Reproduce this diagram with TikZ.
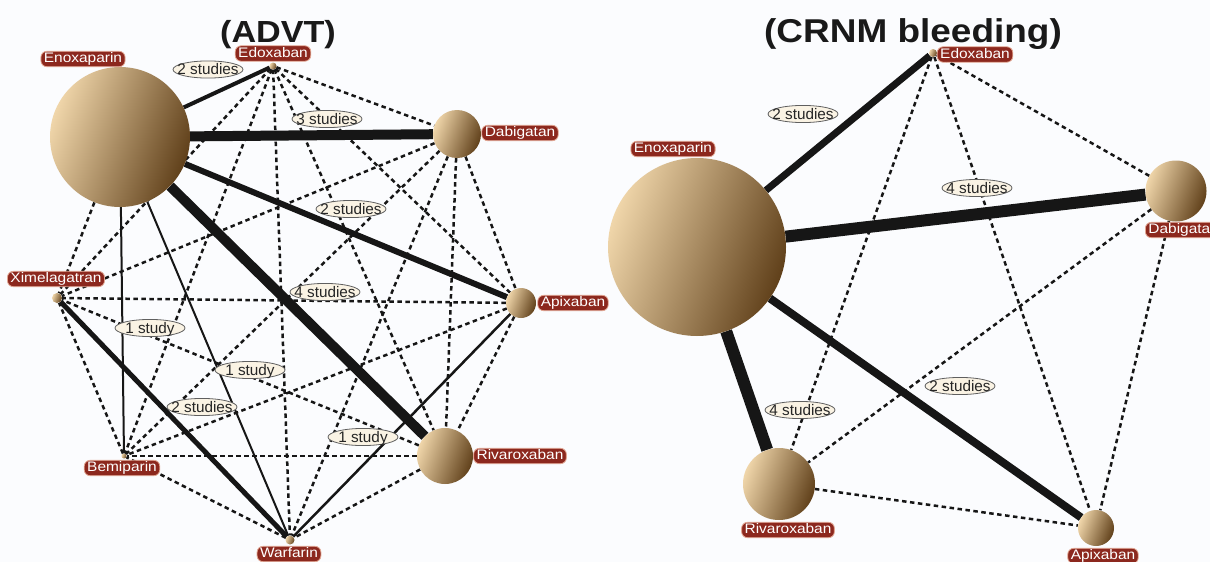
\documentclass[tikz,border=0pt]{standalone}
\usepackage{fontspec}
\setmainfont{Liberation Sans}
\newfontfamily\lblfont[FakeStretch=1.12]{Liberation Sans}
\newfontfamily\ttlfont[FakeStretch=1.12]{Liberation Sans}
\usetikzlibrary{shapes.geometric}
\pgfdeclarelayer{bg}
\pgfsetlayers{bg,main}
\definecolor{sphL}{RGB}{240,214,170}
\definecolor{sphM}{RGB}{184,145,90}
\definecolor{sphD}{RGB}{96,64,26}
\definecolor{lblred}{RGB}{140,40,30}
\definecolor{lblglow}{RGB}{225,165,145}
\definecolor{ellfill}{RGB}{250,243,228}
\definecolor{ellbord}{RGB}{95,95,95}
\definecolor{lineC}{RGB}{22,22,22}
\definecolor{bgC}{RGB}{251,252,254}
\tikzset{
  sph/.style={circle, inner sep=0pt, minimum size=#1, top color=sphL, middle color=sphM, bottom color=sphD, shading angle=70},
  tag/.style={fill=lblred, draw=lblglow, line width=0.8pt, rounded corners=6pt, text=white,
    font=\lblfont\fontsize{13.8}{14}\selectfont, inner xsep=3pt, inner ysep=1.2pt, text height=10pt, text depth=3pt},
  study/.style={ellipse, fill=ellfill, draw=ellbord, line width=0.8pt, text=black!85,
    font=\fontsize{15.3}{16}\selectfont, inner xsep=-6pt, inner ysep=0.8pt, text height=10.5pt, text depth=0pt,
    minimum width=70pt, minimum height=17pt},
  tie/.style={draw=lineC, line width=#1},
  dsh/.style={draw=lineC, line width=2.5pt, dash pattern=on 4.5pt off 3.5pt},
  ttl/.style={anchor=base, font=\ttlfont\bfseries\fontsize{#1}{#1}\selectfont, text=black!90}
}
\begin{document}
\begin{tikzpicture}[x=1pt,y=-1pt]
\begin{pgfonlayer}{bg}
  \fill[bgC] (0,0) rectangle (1210,562);
\end{pgfonlayer}
\useasboundingbox (0,0) rectangle (1210,562);

% ---------- titles ----------
\node[ttl=30.5] (t1) at (278,42.5) {(ADVT)};
\node[ttl=33] (t2) at (913,42.5) {(CRNM bleeding)};

% ---------- left network ----------
\node[sph=140pt] (LEn) at (120,137) {};
\node[sph=7pt]   (LEd) at (273,66) {};
\node[sph=48pt]  (LDa) at (457,134) {};
\node[sph=30pt]  (LAp) at (521,303) {};
\node[sph=56pt]  (LRi) at (445,456) {};
\node[sph=9pt]   (LWa) at (290,540) {};
\node[sph=5pt]   (LBe) at (124,456) {};
\node[sph=10pt]  (LXi) at (57,298) {};

\begin{pgfonlayer}{bg}
  \draw[dsh] (LEn) -- (LXi);
  \draw[dsh] (LEd) -- (LDa);
  \draw[dsh] (LEd) -- (LAp);
  \draw[dsh] (LEd) -- (LRi);
  \draw[dsh] (LEd) -- (LWa);
  \draw[dsh] (LEd) -- (LBe);
  \draw[dsh] (LEd) -- (LXi);
  \draw[dsh] (LDa) -- (LAp);
  \draw[dsh] (LDa) -- (LRi);
  \draw[dsh] (LDa) -- (LWa);
  \draw[dsh] (LDa) -- (LBe);
  \draw[dsh] (LDa) -- (LXi);
  \draw[dsh] (LAp) -- (LRi);
  \draw[dsh] (LAp) -- (LBe);
  \draw[dsh] (LAp) -- (LXi);
  \draw[dsh] (LRi) -- (LWa);
  \draw[dsh] (LRi) -- (LBe);
  \draw[dsh] (LRi) -- (LXi);
  \draw[dsh] (LWa) -- (LBe);
  \draw[dsh] (LBe) -- (LXi);
  \draw[tie=4pt]   (LEn) -- (LEd);
  \draw[tie=10pt]  (LEn) -- (LDa);
  \draw[tie=6pt]   (LEn) -- (LAp);
  \draw[tie=10pt]  (LEn) -- (LRi);
  \draw[tie=2pt]   (LEn) -- (LBe);
  \draw[tie=2pt]   (LEn) -- (LWa);
  \draw[tie=5pt]   (LXi) -- (LWa);
  \draw[tie=2.5pt] (LAp) -- (LWa);
\end{pgfonlayer}

\node[study] (ls1) at (208,69.5) {2 studies};
\node[study] (ls2) at (327,119) {3 studies};
\node[study] (ls3) at (351,209) {2 studies};
\node[study] (ls4) at (325,292) {4 studies};
\node[study] (ls5) at (150,328) {1 study};
\node[study] (ls6) at (250,370) {1 study};
\node[study] (ls7) at (202,407) {2 studies};
\node[study] (ls8) at (363,437) {1 study};

\node[tag] (lEn) at (83,59)   {Enoxaparin};
\node[tag] (lEd) at (273,53.5)  {Edoxaban};
\node[tag] (lDa) at (520,133) {Dabigatan};
\node[tag] (lAp) at (573,303) {Apixaban};
\node[tag] (lRi) at (520,456) {Rivaroxaban};
\node[tag] (lWa) at (289,554) {Warfarin};
\node[tag] (lBe) at (122,468) {Bemiparin};
\node[tag] (lXi) at (56,279)  {Ximelagatran};

% ---------- right network ----------
\node[sph=178pt] (REn) at (697,247) {};
\node[sph=8pt]   (REd) at (933,53) {};
\node[sph=61pt]  (RDa) at (1176,191) {};
\node[sph=72pt]  (RRi) at (779,484) {};
\node[sph=36pt]  (RAp) at (1096,528) {};

\begin{pgfonlayer}{bg}
  \draw[dsh] (REd) -- (RDa);
  \draw[dsh] (REd) -- (RRi);
  \draw[dsh] (REd) -- (RAp);
  \draw[dsh] (RDa) -- (RRi);
  \draw[dsh] (RDa) -- (RAp);
  \draw[dsh] (RRi) -- (RAp);
  \draw[tie=7pt]  (REn) -- (REd);
  \draw[tie=12pt] (REn) -- (RDa);
  \draw[tie=12pt] (REn) -- (RRi);
  \draw[tie=8pt]  (REn) -- (RAp);
\end{pgfonlayer}

\node[study] (rs1) at (803,114) {2 studies};
\node[study] (rs2) at (977,188) {4 studies};
\node[study] (rs3) at (800,410) {4 studies};
\node[study] (rs4) at (960,386) {2 studies};

\node[tag] (rEn) at (673,149)  {Enoxaparin};
\node[tag] (rEd) at (975,54.5)   {Edoxaban};
\node[tag, anchor=west] (rDa) at (1145,230) {Dabigatan};
\node[tag] (rRi) at (788,530)  {Rivaroxaban};
\node[tag] (rAp) at (1103,556) {Apixaban};
\end{tikzpicture}
\end{document}
